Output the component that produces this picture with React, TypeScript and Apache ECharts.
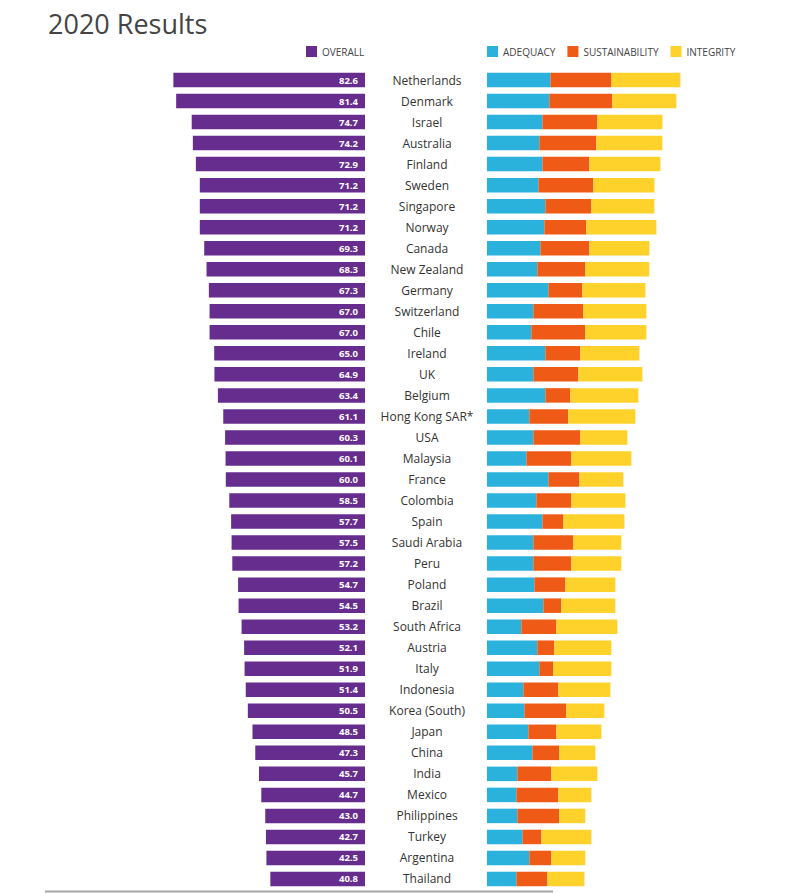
import React, { useEffect, useRef } from "react";
import * as echarts from "echarts";

const countries = [
  "Netherlands", "Denmark", "Israel", "Australia", "Finland", "Sweden", "Singapore", "Norway",
  "Canada", "New Zealand", "Germany", "Switzerland", "Chile", "Ireland", "UK", "Belgium",
  "Hong Kong SAR*", "USA", "Malaysia", "France", "Colombia", "Spain", "Saudi Arabia", "Peru",
  "Poland", "Brazil", "South Africa", "Austria", "Italy", "Indonesia", "Korea (South)", "Japan",
  "China", "India", "Mexico", "Philippines", "Turkey", "Argentina", "Thailand",
];

const overall = [
  82.6, 81.4, 74.7, 74.2, 72.9, 71.2, 71.2, 71.2, 69.3, 68.3, 67.3, 67.0, 67.0, 65.0, 64.9, 63.4,
  61.1, 60.3, 60.1, 60.0, 58.5, 57.7, 57.5, 57.2, 54.7, 54.5, 53.2, 52.1, 51.9, 51.4, 50.5, 48.5,
  47.3, 45.7, 44.7, 43.0, 42.7, 42.5, 40.8,
];

const adequacy = [
  79.2, 77.9, 69.2, 65.4, 69.2, 64.2, 72.9, 71.7, 66.7, 62.9, 76.7, 57.9, 55.4, 72.9, 57.9, 72.9,
  52.9, 57.9, 49.2, 76.7, 61.7, 69.2, 57.9, 57.9, 59.2, 70.4, 42.9, 62.9, 65.4, 45.4, 46.7, 51.7,
  56.7, 37.9, 36.7, 37.9, 44.2, 52.9, 36.7,
];

const sustainability = [
  76.3, 78.8, 68.8, 71.3, 58.8, 68.8, 57.5, 52.5, 61.3, 60.0, 42.5, 62.5, 67.5, 43.8, 56.3, 31.3,
  48.8, 58.8, 56.3, 38.8, 43.8, 26.3, 50.0, 47.5, 38.8, 22.5, 43.8, 21.3, 17.5, 43.8, 52.5, 35.0,
  33.8, 42.5, 52.5, 52.5, 23.8, 27.5, 38.8,
];

const integrity = [
  86.3, 80.0, 81.3, 82.5, 88.8, 76.3, 78.8, 87.5, 75.0, 80.0, 78.8, 78.8, 76.3, 73.8, 80.0, 85.0,
  83.8, 58.8, 75.0, 55.0, 67.5, 76.3, 60.0, 62.5, 62.5, 67.5, 76.3, 71.3, 72.5, 65.0, 47.5, 56.3,
  45.0, 57.5, 41.3, 32.5, 62.5, 42.5, 46.3,
];

const seriesNames = ["OVERALL", "ADEQUACY", "SUSTAINABILITY", "INTEGRITY"];

const PURPLE = "#662d8f";
const BLUE = "#2ab1dc";
const ORANGE = "#ef5a16";
const YELLOW = "#fed22b";
const FONT = "'Open Sans', 'Noto Sans', sans-serif";

export default function App() {
  const ref = useRef<HTMLDivElement>(null);

  useEffect(() => {
    if (!ref.current) return;
    const chart = echarts.init(ref.current, null, { renderer: "svg" });
    const gridTop = 69.5;
    const gridHeight = 820;
    const legendText = { fontSize: 10, color: "#444444", fontFamily: FONT };
    const option: any = {
      animation: false,
      backgroundColor: "#ffffff",
      title: {
        text: "2020 Results",
        left: 48,
        top: 10,
        padding: 0,
        textStyle: { fontSize: 27, fontWeight: "normal", color: "#444444", fontFamily: FONT },
      },
      legend: [
        {
          data: [seriesNames[0]],
          left: 306,
          top: 46,
          padding: 0,
          icon: "rect",
          itemWidth: 11,
          itemHeight: 11,
          itemGap: 12,
          selectedMode: false,
          textStyle: legendText,
        },
        {
          data: seriesNames.slice(1),
          left: 487,
          top: 46,
          padding: 0,
          icon: "rect",
          itemWidth: 11,
          itemHeight: 11,
          itemGap: 12,
          selectedMode: false,
          textStyle: legendText,
        },
      ],
      grid: [
        { left: 40.2, width: 324.8, top: gridTop, height: gridHeight },
        { left: 487, width: 240, top: gridTop, height: gridHeight },
      ],
      xAxis: [
        { type: "value", gridIndex: 0, min: 0, max: 140, inverse: true, show: false },
        { type: "value", gridIndex: 1, min: 0, max: 300, show: false },
      ],
      yAxis: [
        {
          type: "category",
          gridIndex: 0,
          data: countries,
          inverse: true,
          position: "right",
          axisLine: { show: false },
          axisTick: { show: false },
          axisLabel: {
            align: "center",
            margin: 62,
            fontSize: 12,
            color: "#333333",
            fontFamily: FONT,
            interval: 0,
          },
        },
        {
          type: "category",
          gridIndex: 1,
          data: countries,
          inverse: true,
          show: false,
        },
      ],
      series: [
        {
          name: seriesNames[0],
          type: "bar",
          xAxisIndex: 0,
          yAxisIndex: 0,
          data: overall,
          barWidth: 14.5,
          itemStyle: { color: PURPLE },
          label: {
            show: true,
            position: "insideRight",
            distance: 7,
            color: "#ffffff",
            fontSize: 9.5,
            fontWeight: "bold",
            fontFamily: FONT,
            formatter: (p: any) => Number(p.value).toFixed(1),
          },
        },
        {
          name: seriesNames[1],
          type: "bar",
          stack: "sub",
          xAxisIndex: 1,
          yAxisIndex: 1,
          data: adequacy,
          barWidth: 14.5,
          itemStyle: { color: BLUE },
        },
        {
          name: seriesNames[2],
          type: "bar",
          stack: "sub",
          xAxisIndex: 1,
          yAxisIndex: 1,
          data: sustainability,
          barWidth: 14.5,
          itemStyle: { color: ORANGE },
        },
        {
          name: seriesNames[3],
          type: "bar",
          stack: "sub",
          xAxisIndex: 1,
          yAxisIndex: 1,
          data: integrity,
          barWidth: 14.5,
          itemStyle: { color: YELLOW },
        },
      ],
      graphic: [
        {
          type: "line",
          shape: { x1: 45, y1: 891.5, x2: 553, y2: 891.5 },
          style: { stroke: "#a8a8a8", lineWidth: 2 },
        },
      ],
    };
    chart.setOption(option);
    return () => chart.dispose();
  }, []);

  return (
    <div
      ref={ref}
      style={{ position: "fixed", left: 0, top: 0, width: 787, height: 893, background: "#fff" }}
    />
  );
}
